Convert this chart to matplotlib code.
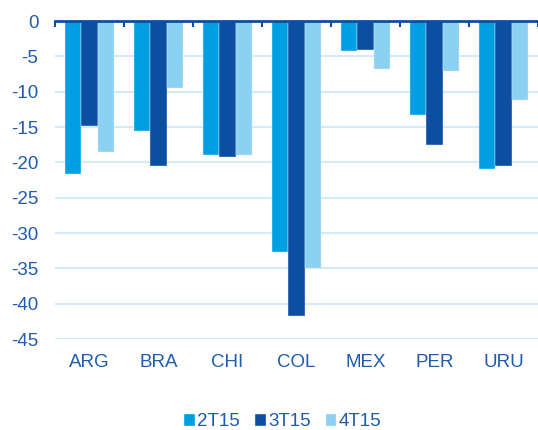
import matplotlib
matplotlib.use("Agg")
import matplotlib.pyplot as plt
import numpy as np

categories = ["ARG", "BRA", "CHI", "COL", "MEX", "PER", "URU"]
series_names = ["2T15", "3T15", "4T15"]
v_2t15 = [-21.6, -15.6, -19.0, -32.7, -4.3, -13.3, -21.0]
v_3t15 = [-14.8, -20.5, -19.2, -41.8, -4.1, -17.5, -20.5]
v_4t15 = [-18.5, -9.5, -18.9, -35.0, -6.8, -7.1, -11.2]
yticks = [0, -5, -10, -15, -20, -25, -30, -35, -40, -45]

colors = ["#009FE3", "#0B4EA2", "#8AD1F2"]
text_color = "#1F5BAE"
grid_color = "#C8E9F7"

plt.rcParams['font.family'] = ['Liberation Sans', 'DejaVu Sans']

fig = plt.figure(figsize=(5.38, 4.30), dpi=100)
ax = fig.add_axes([55/538, 1-339/430, 1-55/538, (339-21)/430])

x = np.arange(len(categories))
w = 0.24
for i, (vals, c, name) in enumerate(zip([v_2t15, v_3t15, v_4t15], colors, series_names)):
    ax.bar(x + (i-1)*w, vals, width=w, color=c, label=name,
           edgecolor="#DDEFFA", linewidth=0.3, zorder=3)

ax.set_ylim(-45, 0)
ax.set_xlim(-0.5, 6.45)
ax.set_yticks(yticks)
ax.set_yticklabels([str(t) for t in yticks])
ax.yaxis.grid(True, color=grid_color, linewidth=1.2, zorder=0)
ax.set_axisbelow(True)

for s in ["left", "right", "bottom"]:
    ax.spines[s].set_visible(False)
ax.spines["top"].set_color("#0B4EA2")
ax.spines["top"].set_linewidth(2)
ax.spines["top"].set_zorder(4)

ax.set_xticks(x)
ax.set_xticklabels(categories)
ax.tick_params(axis="x", which="major", length=0, pad=11, labelsize=13.5, labelcolor=text_color)
ax.tick_params(axis="y", length=0, pad=12, labelsize=13.5, labelcolor=text_color)
ax.set_xticks(np.arange(-0.5, 7, 1.0), minor=True)
ax.tick_params(axis="x", which="minor", top=True, bottom=False, direction="in",
               length=4, width=1.5, color="#0B4EA2")

leg = fig.legend(loc="center", bbox_to_anchor=(283/538, 1-422/430), ncol=3,
                 frameon=False, fontsize=13.5, handlelength=0.55, handleheight=0.55,
                 handletextpad=0.15, columnspacing=0.8)
for t in leg.get_texts():
    t.set_color(text_color)

fig.savefig("out.png", dpi=100)
